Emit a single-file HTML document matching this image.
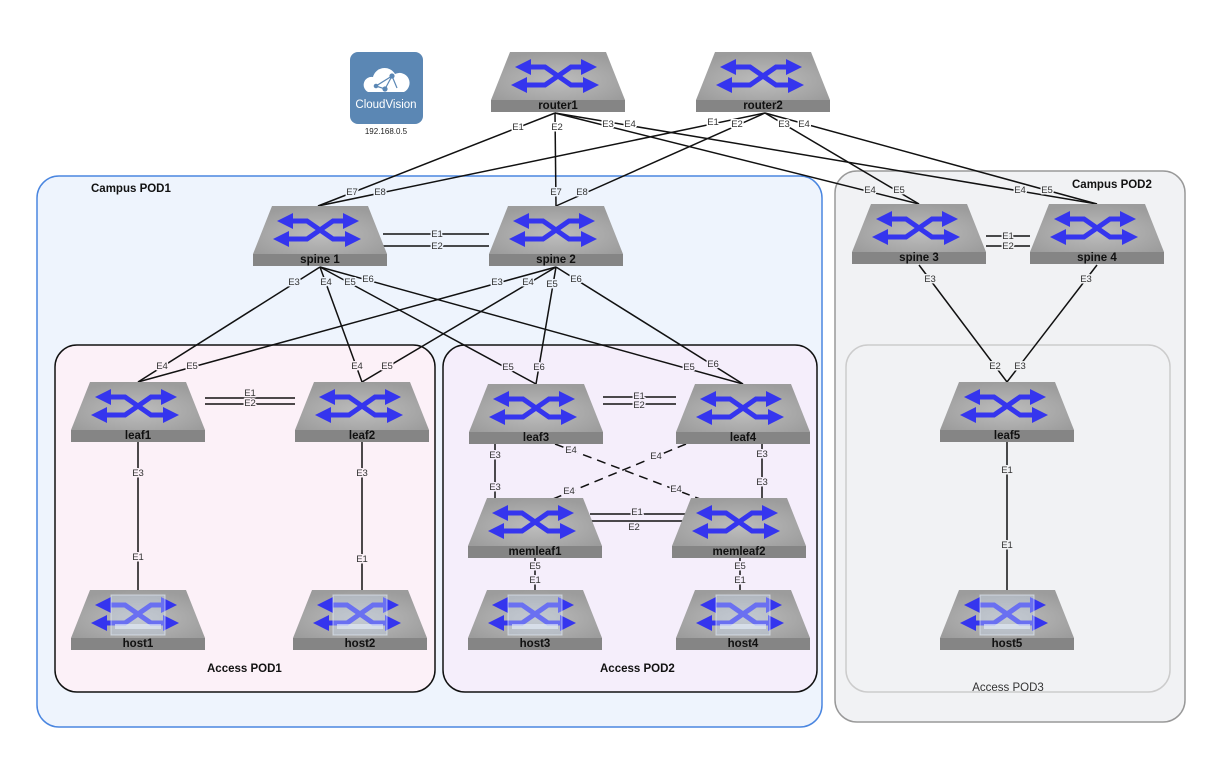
<!DOCTYPE html>
<html><head><meta charset="utf-8"><style>
html,body{margin:0;padding:0;background:#fff;}
svg{display:block;font-family:"Liberation Sans",sans-serif;}
.l{font-size:9.5px;fill:#333;text-anchor:middle;paint-order:stroke;stroke-width:3px;stroke-linejoin:round;}
.w{stroke:#fff;} .b{stroke:#eef4fd;} .p{stroke:#fcf1f8;} .v{stroke:#f5eefb;} .g{stroke:#f1f2f4;}
.n{font-size:11.5px;font-weight:bold;fill:#111;text-anchor:middle;}
.t{font-size:11.5px;font-weight:bold;fill:#111;}
</style></head><body>
<svg width="1222" height="764" viewBox="0 0 1222 764" xmlns="http://www.w3.org/2000/svg">
<defs>
<radialGradient id="tf" cx="0.5" cy="0.6" r="0.6"><stop offset="0" stop-color="#bdbdbd"/><stop offset="1" stop-color="#9c9c9c"/></radialGradient>
<marker id="ah" viewBox="0 0 10 10" refX="5" refY="5" markerWidth="3.2" markerHeight="3.2" orient="auto-start-reverse"><path d="M0,0 L10,5 L0,10 z" fill="#3535ee"/></marker>
<g id="sw">
<polygon points="19,0 115,0 134,48 0,48" fill="url(#tf)"/>
<rect x="0" y="48" width="134" height="12" fill="#858585"/>
<path d="M32,15 L54,15 L80,33 L100,33" fill="none" stroke="#3535ee" stroke-width="5" marker-start="url(#ah)" marker-end="url(#ah)"/>
<path d="M28,33 L54,33 L80,15 L98,15" fill="none" stroke="#3535ee" stroke-width="5" marker-start="url(#ah)" marker-end="url(#ah)"/>
</g>
<g id="host">
<use href="#sw"/>
<rect x="40" y="5" width="54" height="40" fill="#cfe0f5" fill-opacity="0.35" stroke="#e8f0fb" stroke-opacity="0.6"/>
<rect x="44" y="34" width="46" height="5" fill="#e8f0fb" fill-opacity="0.6"/>
</g>
</defs>

<rect x="37" y="176" width="785" height="551" rx="22" fill="#eef4fd" stroke="#4a86e0" stroke-width="1.5"/>
<rect x="835" y="171" width="350" height="551" rx="22" fill="#f1f2f4" stroke="#999" stroke-width="1.5"/>
<rect x="55" y="345" width="380" height="347" rx="22" fill="#fcf1f8" stroke="#111" stroke-width="1.5"/>
<rect x="443" y="345" width="374" height="347" rx="22" fill="#f5eefb" stroke="#111" stroke-width="1.5"/>
<rect x="846" y="345" width="324" height="347" rx="22" fill="#f1f2f4" stroke="#ccc" stroke-width="1.5"/>
<text class="t" x="91" y="192">Campus POD1</text>
<text class="t" x="1072" y="188">Campus POD2</text>
<text class="t" x="207" y="672">Access POD1</text>
<text class="t" x="600" y="672">Access POD2</text>
<text x="1008" y="691" font-size="11.5" fill="#333" text-anchor="middle">Access POD3</text>

<g stroke="#111" stroke-width="1.5" fill="none">
<line x1="555" y1="113" x2="318" y2="206"/>
<line x1="555" y1="113" x2="556" y2="206"/>
<line x1="555" y1="113" x2="919" y2="204"/>
<line x1="555" y1="113" x2="1097" y2="204"/>
<line x1="765" y1="113" x2="318" y2="206"/>
<line x1="765" y1="113" x2="556" y2="206"/>
<line x1="765" y1="113" x2="919" y2="204"/>
<line x1="765" y1="113" x2="1097" y2="204"/>
<line x1="383" y1="234" x2="489" y2="234"/>
<line x1="383" y1="246" x2="489" y2="246"/>
<line x1="986" y1="236" x2="1030" y2="236"/>
<line x1="986" y1="246" x2="1030" y2="246"/>
<line x1="320" y1="267" x2="138" y2="382"/>
<line x1="320" y1="267" x2="362" y2="382"/>
<line x1="320" y1="267" x2="536" y2="384"/>
<line x1="320" y1="267" x2="743" y2="384"/>
<line x1="556" y1="267" x2="138" y2="382"/>
<line x1="556" y1="267" x2="362" y2="382"/>
<line x1="556" y1="267" x2="536" y2="384"/>
<line x1="556" y1="267" x2="743" y2="384"/>
<line x1="919" y1="265" x2="1007" y2="382"/>
<line x1="1097" y1="265" x2="1007" y2="382"/>
<line x1="205" y1="398" x2="295" y2="398"/>
<line x1="205" y1="404" x2="295" y2="404"/>
<line x1="603" y1="397" x2="676" y2="397"/>
<line x1="603" y1="404" x2="676" y2="404"/>
<line x1="495" y1="444" x2="495" y2="498"/>
<line x1="762" y1="444" x2="762" y2="498"/>
<line x1="555" y1="444" x2="700" y2="499" stroke-dasharray="9,6"/>
<line x1="686" y1="444" x2="553" y2="499" stroke-dasharray="9,6"/>
<line x1="590" y1="514" x2="690" y2="514"/>
<line x1="590" y1="521" x2="690" y2="521"/>
<line x1="535" y1="558" x2="535" y2="590"/>
<line x1="740" y1="558" x2="740" y2="590"/>
<line x1="138" y1="442" x2="138" y2="590"/>
<line x1="362" y1="442" x2="362" y2="590"/>
<line x1="1007" y1="442" x2="1007" y2="590"/>
</g>

<use href="#sw" x="491" y="52"/><text class="n" x="558" y="109">router1</text>
<use href="#sw" x="696" y="52"/><text class="n" x="763" y="109">router2</text>
<use href="#sw" x="253" y="206"/><text class="n" x="320" y="263">spine 1</text>
<use href="#sw" x="489" y="206"/><text class="n" x="556" y="263">spine 2</text>
<use href="#sw" x="852" y="204"/><text class="n" x="919" y="261">spine 3</text>
<use href="#sw" x="1030" y="204"/><text class="n" x="1097" y="261">spine 4</text>
<use href="#sw" x="71" y="382"/><text class="n" x="138" y="439">leaf1</text>
<use href="#sw" x="295" y="382"/><text class="n" x="362" y="439">leaf2</text>
<use href="#sw" x="469" y="384"/><text class="n" x="536" y="441">leaf3</text>
<use href="#sw" x="676" y="384"/><text class="n" x="743" y="441">leaf4</text>
<use href="#sw" x="468" y="498"/><text class="n" x="535" y="555">memleaf1</text>
<use href="#sw" x="672" y="498"/><text class="n" x="739" y="555">memleaf2</text>
<use href="#sw" x="940" y="382"/><text class="n" x="1007" y="439">leaf5</text>
<use href="#host" x="71" y="590"/><text class="n" x="138" y="647">host1</text>
<use href="#host" x="293" y="590"/><text class="n" x="360" y="647">host2</text>
<use href="#host" x="468" y="590"/><text class="n" x="535" y="647">host3</text>
<use href="#host" x="676" y="590"/><text class="n" x="743" y="647">host4</text>
<use href="#host" x="940" y="590"/><text class="n" x="1007" y="647">host5</text>

<rect x="350" y="52" width="73" height="72" rx="8" fill="#5b87b4"/>
<path d="M368,92 a8,8 0 0 1 5,-15 a12,12 0 0 1 22,-3 a9,9 0 0 1 9,18 z" fill="#fff"/>
<g stroke="#5b87b4" stroke-width="1.2" fill="#5b87b4"><line x1="376" y1="86" x2="392" y2="76"/><line x1="392" y1="76" x2="385" y2="89"/><line x1="392" y1="76" x2="397" y2="88"/><line x1="376" y1="86" x2="385" y2="89"/><circle cx="392" cy="76" r="2"/><circle cx="385" cy="89" r="2"/><circle cx="376" cy="86" r="1.7"/></g>
<text x="386" y="108" font-size="11.5" fill="#fff" text-anchor="middle">CloudVision</text>
<text x="386" y="134" font-size="8" fill="#222" text-anchor="middle">192.168.0.5</text>

<text x="518" y="130" class="l w">E1</text><text x="557" y="130" class="l w">E2</text>
<text x="608" y="127" class="l w">E3</text><text x="630" y="127" class="l w">E4</text>
<text x="713" y="125" class="l w">E1</text><text x="737" y="127" class="l w">E2</text>
<text x="784" y="127" class="l w">E3</text><text x="804" y="127" class="l w">E4</text>
<text x="352" y="195" class="l b">E7</text><text x="380" y="195" class="l b">E8</text>
<text x="556" y="195" class="l b">E7</text><text x="582" y="195" class="l b">E8</text>
<text x="870" y="193" class="l g">E4</text><text x="899" y="193" class="l g">E5</text>
<text x="1020" y="193" class="l g">E4</text><text x="1047" y="193" class="l g">E5</text>
<text x="437" y="237" class="l b">E1</text><text x="437" y="249" class="l b">E2</text>
<text x="1008" y="239" class="l g">E1</text><text x="1008" y="249" class="l g">E2</text>
<text x="294" y="285" class="l b">E3</text><text x="326" y="285" class="l b">E4</text>
<text x="350" y="285" class="l b">E5</text><text x="368" y="282" class="l b">E6</text>
<text x="497" y="285" class="l b">E3</text><text x="528" y="285" class="l b">E4</text>
<text x="552" y="287" class="l b">E5</text><text x="576" y="282" class="l b">E6</text>
<text x="930" y="282" class="l g">E3</text><text x="1086" y="282" class="l g">E3</text>
<text x="162" y="369" class="l p">E4</text><text x="192" y="369" class="l p">E5</text>
<text x="357" y="369" class="l p">E4</text><text x="387" y="369" class="l p">E5</text>
<text x="508" y="370" class="l v">E5</text><text x="539" y="370" class="l v">E6</text>
<text x="689" y="370" class="l v">E5</text><text x="713" y="367" class="l v">E6</text>
<text x="995" y="369" class="l g">E2</text><text x="1020" y="369" class="l g">E3</text>
<text x="250" y="396" class="l p">E1</text><text x="250" y="406" class="l p">E2</text>
<text x="639" y="399" class="l v">E1</text><text x="639" y="408" class="l v">E2</text>
<text x="495" y="458" class="l v">E3</text><text x="495" y="490" class="l v">E3</text>
<text x="762" y="457" class="l v">E3</text><text x="762" y="485" class="l v">E3</text>
<text x="571" y="453" class="l v">E4</text><text x="656" y="459" class="l v">E4</text>
<text x="676" y="492" class="l v">E4</text><text x="569" y="494" class="l v">E4</text>
<text x="637" y="515" class="l v">E1</text><text x="634" y="530" class="l v">E2</text>
<text x="535" y="569" class="l v">E5</text><text x="535" y="583" class="l v">E1</text>
<text x="740" y="569" class="l v">E5</text><text x="740" y="583" class="l v">E1</text>
<text x="138" y="476" class="l p">E3</text><text x="138" y="560" class="l p">E1</text>
<text x="362" y="476" class="l p">E3</text><text x="362" y="562" class="l p">E1</text>
<text x="1007" y="473" class="l g">E1</text><text x="1007" y="548" class="l g">E1</text>
</svg>
</body></html>
